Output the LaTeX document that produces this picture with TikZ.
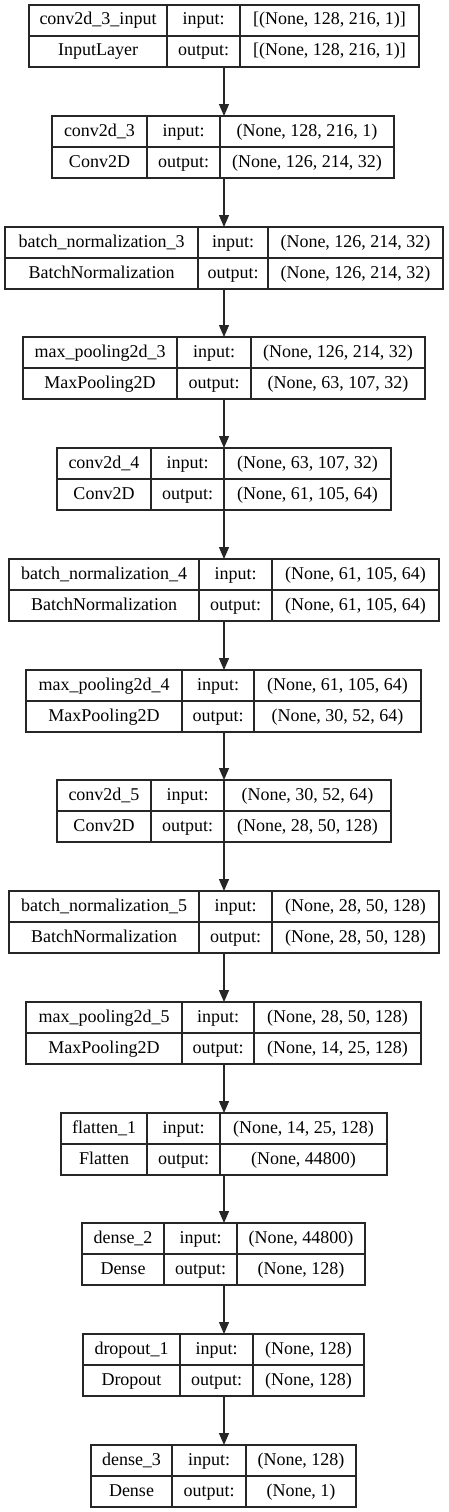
\documentclass[tikz,border=0pt]{standalone}
\usepackage{fontspec}
\setmainfont{Liberation Serif}
\usetikzlibrary{arrows.meta,fit}

% one layer table: id, top-left corner, three column widths, four texts
\newcommand{\layerbox}[9]{%
  \node[cell,minimum width=#3pt,anchor=north west] (#1-n) at (#2) {#6};
  \node[cell,minimum width=#4pt,anchor=north west] (#1-i) at (#1-n.north east) {input:};
  \node[cell,minimum width=#5pt,anchor=north west] (#1-s) at (#1-i.north east) {#8};
  \node[cell,minimum width=#3pt,anchor=north west] (#1-c) at (#1-n.south west) {#7};
  \node[cell,minimum width=#4pt,anchor=north west] (#1-o) at (#1-c.north east) {output:};
  \node[cell,minimum width=#5pt,anchor=north west] (#1-t) at (#1-o.north east) {#9};
  \node[fit=(#1-n)(#1-t),inner sep=0pt,outer sep=0pt] (#1) {};
}

\begin{document}
\begin{tikzpicture}[
  x=1pt,y=-1pt,
  cell/.style={draw=black!85,line width=1.1pt,inner sep=0pt,outer sep=0pt,
    minimum height=31pt,text height=12.5pt,text depth=3.5pt,
    font=\fontsize{18}{21}\selectfont},
  link/.style={-{Triangle[length=12pt,width=10pt]},draw=black!85,line width=1.3pt}
]
\path[fill=white,use as bounding box] (0,0) rectangle (448,1512);

\layerbox{l1}{29,5}{138}{73}{179}{conv2d\_3\_input}{InputLayer}{[(None, 128, 216, 1)]}{[(None, 128, 216, 1)]}
\layerbox{l2}{52,116}{95}{73}{174}{conv2d\_3}{Conv2D}{(None, 128, 216, 1)}{(None, 126, 214, 32)}
\layerbox{l3}{5,227}{193}{70}{175}{batch\_normalization\_3}{BatchNormalization}{(None, 126, 214, 32)}{(None, 126, 214, 32)}
\layerbox{l4}{23,337}{154}{74}{174}{max\_pooling2d\_3}{MaxPooling2D}{(None, 126, 214, 32)}{(None, 63, 107, 32)}
\layerbox{l5}{57,448}{94}{73}{167}{conv2d\_4}{Conv2D}{(None, 63, 107, 32)}{(None, 61, 105, 64)}
\layerbox{l6}{9,559}{190}{73}{167}{batch\_normalization\_4}{BatchNormalization}{(None, 61, 105, 64)}{(None, 61, 105, 64)}
\layerbox{l7}{26,670}{156}{72}{167}{max\_pooling2d\_4}{MaxPooling2D}{(None, 61, 105, 64)}{(None, 30, 52, 64)}
\layerbox{l8}{57,780}{94}{73}{167}{conv2d\_5}{Conv2D}{(None, 30, 52, 64)}{(None, 28, 50, 128)}
\layerbox{l9}{9,891}{190}{73}{167}{batch\_normalization\_5}{BatchNormalization}{(None, 28, 50, 128)}{(None, 28, 50, 128)}
\layerbox{l10}{26,1002}{156}{72}{167}{max\_pooling2d\_5}{MaxPooling2D}{(None, 28, 50, 128)}{(None, 14, 25, 128)}
\layerbox{l11}{61,1113}{86}{73}{167}{flatten\_1}{Flatten}{(None, 14, 25, 128)}{(None, 44800)}
\layerbox{l12}{82,1223}{82}{73}{128}{dense\_2}{Dense}{(None, 44800)}{(None, 128)}
\layerbox{l13}{83,1334}{97}{73}{111}{dropout\_1}{Dropout}{(None, 128)}{(None, 128)}
\layerbox{l14}{91,1445}{81}{74}{110}{dense\_3}{Dense}{(None, 128)}{(None, 1)}

\draw[link] (l1.south) -- (l2.north -| l1.south);
\draw[link] (l2.south -| l1.south) -- (l3.north -| l1.south);
\draw[link] (l3.south -| l1.south) -- (l4.north -| l1.south);
\draw[link] (l4.south -| l1.south) -- (l5.north -| l1.south);
\draw[link] (l5.south -| l1.south) -- (l6.north -| l1.south);
\draw[link] (l6.south -| l1.south) -- (l7.north -| l1.south);
\draw[link] (l7.south -| l1.south) -- (l8.north -| l1.south);
\draw[link] (l8.south -| l1.south) -- (l9.north -| l1.south);
\draw[link] (l9.south -| l1.south) -- (l10.north -| l1.south);
\draw[link] (l10.south -| l1.south) -- (l11.north -| l1.south);
\draw[link] (l11.south -| l1.south) -- (l12.north -| l1.south);
\draw[link] (l12.south -| l1.south) -- (l13.north -| l1.south);
\draw[link] (l13.south -| l1.south) -- (l14.north -| l1.south);
\end{tikzpicture}
\end{document}
